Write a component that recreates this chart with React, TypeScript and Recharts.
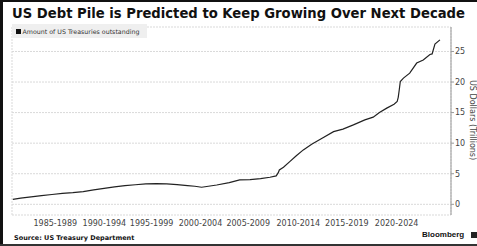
import React from 'react';
import { LineChart, Line, XAxis, YAxis, CartesianGrid } from 'recharts';

// amount of US Treasuries outstanding, trillions of dollars
const years = [
  1983.25, 1984, 1985, 1986, 1987, 1988, 1989, 1990, 1991, 1992, 1993, 1994, 1995, 1996,
  1997, 1998, 1999, 2000, 2000.7, 2001.35, 2002, 2002.8, 2004, 2005, 2006, 2007, 2007.9,
  2008.5, 2008.7, 2008.8, 2009.2, 2009.8, 2010.4, 2011.1, 2011.9, 2012.9, 2014, 2014.9,
  2015.9, 2017, 2017.8, 2018.4, 2019.1, 2019.8, 2020.1, 2020.2, 2020.3, 2020.4, 2020.7,
  2021.3, 2021.97, 2022.6, 2023.24, 2023.45, 2023.72, 2024.2,
];
const debt = [
  0.82, 1.0, 1.2, 1.42, 1.6, 1.8, 1.92, 2.08, 2.35, 2.62, 2.85, 3.05, 3.2, 3.33,
  3.38, 3.33, 3.22, 3.05, 2.95, 2.79, 2.95, 3.16, 3.54, 3.98, 4.05, 4.2, 4.42,
  4.64, 5.18, 5.62, 6.06, 6.98, 7.91, 8.9, 9.83, 10.81, 11.89, 12.29,
  12.99, 13.81, 14.25, 15.0, 15.73, 16.38, 16.81, 17.5, 18.73, 20.09, 20.64,
  21.46, 23.1, 23.6, 24.5, 24.6, 26.2, 26.9,
];

const gridYears = [
  1984, 1986, 1988, 1990, 1992, 1994, 1996, 1998, 2000, 2002, 2004,
  2006, 2008, 2010, 2012, 2014, 2016, 2018, 2020, 2022, 2024,
];
const labelYears = [1987.32, 1992.03, 1996.56, 2001.24, 2005.82, 2010.62, 2015.28, 2020.05];
const periodLabels = [
  '1985-1989', '1990-1994', '1995-1999', '2000-2004',
  '2005-2009', '2010-2014', '2015-2019', '2020-2024',
];
const yTicks = [0, 5, 10, 15, 20, 25];

const data = years.map((year, i) => ({ year, debt: debt[i] }));

const X_DOMAIN = [1983.17, 2025.26];
const FONT = '"DejaVu Sans", Verdana, sans-serif';

export default function App() {
  const labelFor = (v: number) => {
    const i = labelYears.indexOf(v);
    return i >= 0 ? periodLabels[i] : '';
  };

  return (
    <div style={{ position: 'relative', width: 477, height: 246, background: '#fff', overflow: 'hidden', fontFamily: FONT }}>
      <style>{'body{margin:0}'}</style>

      <LineChart
        width={477}
        height={246}
        data={data}
        margin={{ top: 27, right: 0, left: 12, bottom: 15 }}
        style={{ position: 'absolute', left: 0, top: 0 }}
      >
        <CartesianGrid stroke="#d9d9d9" strokeDasharray="2 1" />
        <XAxis
          dataKey="year"
          type="number"
          domain={X_DOMAIN}
          ticks={gridYears}
          allowDataOverflow
          height={0}
          axisLine={false}
          tickLine={false}
          tick={false}
        />
        <XAxis
          xAxisId="lbl"
          dataKey="year"
          type="number"
          domain={X_DOMAIN}
          ticks={labelYears}
          tickFormatter={labelFor}
          allowDataOverflow
          axisLine={false}
          tickLine={false}
          tickSize={0}
          tickMargin={5}
          height={16}
          interval={0}
          tick={{ fontSize: 8, fill: '#444', fontFamily: FONT }}
        />
        <YAxis
          orientation="right"
          domain={[-1.75, 29]}
          ticks={yTicks}
          allowDataOverflow
          width={26}
          axisLine={{ stroke: '#999' }}
          tickLine={{ stroke: '#999' }}
          tickSize={3}
          tickMargin={1}
          tick={{ fontSize: 8, fill: '#444', fontFamily: FONT }}
        />
        <Line
          type="linear"
          dataKey="debt"
          stroke="#222"
          strokeWidth={1.2}
          dot={false}
          isAnimationActive={false}
        />
      </LineChart>

      {/* title */}
      <div style={{ position: 'absolute', left: 12, top: 6, fontSize: 13.2, fontWeight: 'bold', color: '#111', whiteSpace: 'nowrap', lineHeight: '16px' }}>
        US Debt Pile is Predicted to Keep Growing Over Next Decade
      </div>

      {/* legend */}
      <div style={{ position: 'absolute', left: 12, top: 24, width: 135, height: 14, background: '#efefef', display: 'flex', alignItems: 'center' }}>
        <span style={{ width: 5, height: 5, background: '#111', marginLeft: 4, marginRight: 1.5 }} />
        <span style={{ fontSize: 6.3, color: '#333', whiteSpace: 'nowrap' }}>Amount of US Treasuries outstanding</span>
      </div>

      {/* y axis title */}
      <div style={{ position: 'absolute', left: 468, top: 80, height: 82, writingMode: 'vertical-rl', fontSize: 8, color: '#444', whiteSpace: 'nowrap' }}>
        US Dollars (Trillions)
      </div>

      {/* footer */}
      <div style={{ position: 'absolute', left: 14, top: 234, fontSize: 6.5, fontWeight: 'bold', color: '#111', whiteSpace: 'nowrap' }}>
        Source: US Treasury Department
      </div>
      <div style={{ position: 'absolute', left: 422, top: 230, fontSize: 8, fontWeight: 'bold', color: '#111', whiteSpace: 'nowrap', fontFamily: '"Liberation Sans", Arial, sans-serif' }}>
        Bloomberg
      </div>
      <div style={{ position: 'absolute', left: 471, top: 232, width: 6, height: 6, background: '#222' }} />

      {/* frame */}
      <div style={{ position: 'absolute', left: 0, top: 0, width: 477, height: 2, background: '#111' }} />
      <div style={{ position: 'absolute', left: 0, top: 0, width: 3, height: 246, background: '#111' }} />
      <div style={{ position: 'absolute', left: 0, top: 244, width: 477, height: 2, background: '#333' }} />
    </div>
  );
}
